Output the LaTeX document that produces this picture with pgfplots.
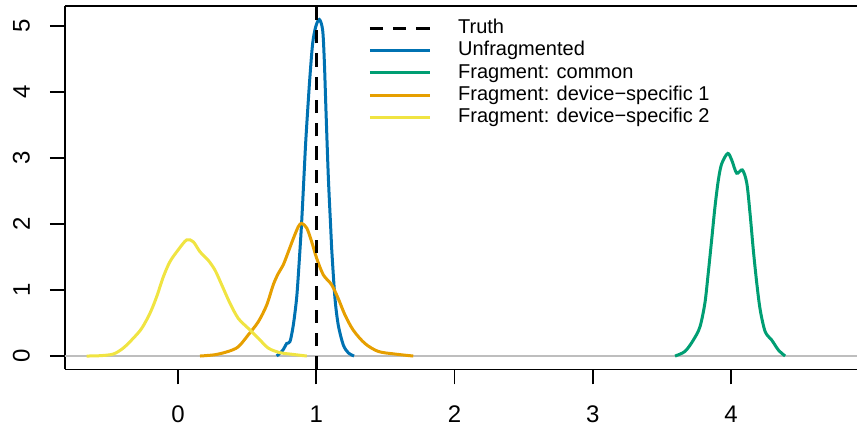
\documentclass[border=0pt]{standalone}
\usepackage{fontspec}
\setmainfont{Liberation Sans}
\usepackage{pgfplots}
\pgfplotsset{compat=1.18}
\definecolor{cblue}{HTML}{0072B2}
\definecolor{cgreen}{HTML}{009E73}
\definecolor{corange}{HTML}{E69F00}
\definecolor{cyellow}{HTML}{F0E442}
\definecolor{zgray}{RGB}{190,190,190}
\begin{document}
\begin{tikzpicture}
\begin{axis}[
  scale only axis, width=792pt, height=363.5pt,
  xmin=-0.817, xmax=4.91, ymin=-0.204, ymax=5.304,
  axis x line*=box, axis y line*=left,
  axis line style={line width=1.6pt, black},
  xtick={0,1,2,3,4}, ytick={0,1,2,3,4,5},
  xtick pos=left, ytick pos=left,
  tick align=outside, major tick length=15pt,
  tick style={line width=1.6pt, black},
  /pgf/number format/assume math mode=true,
  xticklabel style={font=\fontsize{24}{28}\selectfont, anchor=north, inner sep=0pt},
  yticklabel style={font=\fontsize{24}{28}\selectfont, rotate=90, anchor=south, inner sep=0pt},
  xticklabel shift=21pt, yticklabel shift=20pt,
  legend style={at={(axis cs:1.376,5.106)}, anchor=north west, draw=none, fill=none,
    inner sep=0pt, outer sep=0pt, row sep=3.55pt,
    font=\fontsize{20}{24}\selectfont,
    nodes={inner sep=0pt, text height=14.5pt, text depth=4.2pt},
    /tikz/every odd column/.append style={column sep=26.7pt}},
  legend cell align=left,
  legend image code/.code={\draw[#1] (0pt,0pt) -- (60pt,0pt);},
]
\addlegendimage{black, line width=3.2pt, dash pattern=on 13.3pt off 10pt}
\addlegendentry{Truth}
\addplot[forget plot, zgray, line width=1.3pt] coordinates {(-0.817,0) (4.91,0)};
\addplot[cblue, line width=3pt, smooth, tension=0.5] table {
0.714 0
0.759 0.09
0.786 0.19
0.810 0.22
0.834 0.47
0.858 0.88
0.875 1.38
0.894 2.02
0.911 2.72
0.923 3.22
0.938 3.73
0.954 4.23
0.974 4.74
0.996 4.99
1.022 5.10
1.046 4.94
1.058 4.48
1.070 3.73
1.087 2.72
1.104 1.96
1.111 1.64
1.135 0.88
1.159 0.47
1.195 0.17
1.231 0.05
1.273 0
};
\addlegendentry{Unfragmented}
\addplot[cgreen, line width=3pt, smooth, tension=0.5] table {
3.594 0
3.666 0.07
3.726 0.24
3.774 0.44
3.810 0.80
3.834 1.25
3.859 1.76
3.883 2.26
3.907 2.66
3.931 2.91
3.975 3.07
4.004 2.97
4.040 2.77
4.081 2.82
4.113 2.62
4.137 2.15
4.161 1.59
4.186 1.09
4.210 0.70
4.246 0.37
4.294 0.24
4.342 0.09
4.390 0
};
\addlegendentry{Fragment: common}
\addplot[corange, line width=3pt, smooth, tension=0.5] table {
0.159 0
0.268 0.02
0.364 0.07
0.436 0.14
0.508 0.32
0.581 0.52
0.641 0.77
0.689 1.08
0.725 1.25
0.761 1.38
0.798 1.58
0.834 1.78
0.870 1.96
0.894 2.01
0.931 1.94
0.967 1.73
1.003 1.48
1.051 1.23
1.111 1.08
1.159 0.87
1.208 0.62
1.268 0.39
1.352 0.19
1.448 0.07
1.569 0.03
1.701 0
};
\addlegendentry{Fragment: device−specific 1}
\addplot[cyellow, line width=3pt, smooth, tension=0.5] table {
-0.660 0
-0.564 0.005
-0.468 0.03
-0.396 0.12
-0.323 0.27
-0.262 0.42
-0.202 0.65
-0.154 0.90
-0.106 1.20
-0.058 1.43
0.002 1.61
0.063 1.76
0.111 1.73
0.159 1.58
0.219 1.45
0.268 1.30
0.316 1.08
0.376 0.80
0.436 0.57
0.508 0.42
0.581 0.27
0.653 0.12
0.738 0.05
0.810 0.03
0.931 0
};
\addlegendentry{Fragment: device−specific 2}
\addplot[forget plot, black, line width=3.2pt, dash pattern=on 13.3pt off 10pt] coordinates {(1,-0.204) (1,5.304)};
\end{axis}
\pgfresetboundingbox
\path ([shift={(-65pt,-56.5pt)}]current axis.south west) rectangle ([shift={(0pt,6pt)}]current axis.north east);
\end{tikzpicture}
\end{document}
